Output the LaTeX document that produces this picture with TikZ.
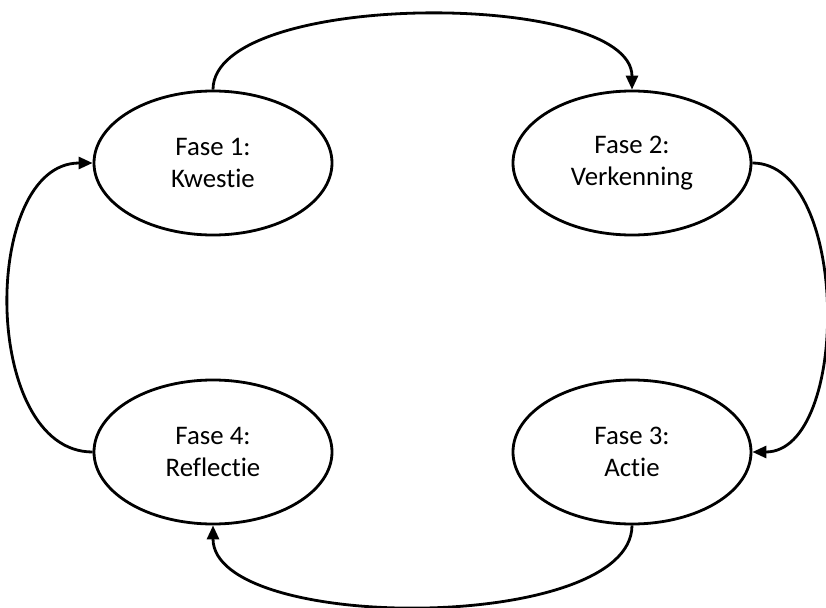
\documentclass[tikz,border=0pt]{standalone}
\usepackage{fontspec}
\setmainfont{Carlito}[Ligatures=NoCommon]
\usetikzlibrary{arrows.meta,shapes.geometric}

\begin{document}
\begin{tikzpicture}[>={Triangle[length=7pt,width=6pt]},x=0.5pt,y=0.5pt,
  fase/.style={ellipse,draw,line width=1.4pt,minimum width=119pt,minimum height=72pt,
    inner sep=0pt,align=center,font=\fontsize{13.4}{16.2}\selectfont},
  pijl/.style={->,line width=1.4pt}]
  \useasboundingbox (0,0) rectangle (826,607);
  % vier fasen
  \node[fase] (f1) at (213,444) {Fase 1:\\Kwestie};
  \node[fase] (f2) at (632,444) {Fase 2:\\Verkenning};
  \node[fase] (f3) at (632,155) {Fase 3:\\Actie};
  \node[fase] (f4) at (213,155) {Fase 4:\\Reflectie};
  % cyclus
  \draw[pijl] (f1.north) .. controls +(0,100) and +(0,100) .. (f2.north);
  \draw[pijl] (f2.east) .. controls +(98,0) and +(98,0) .. (f3.east);
  \draw[pijl] (f3.south) .. controls +(0,-108) and +(0,-108) .. (f4.south);
  \draw[pijl] (f4.west) .. controls +(-112,0) and +(-112,0) .. (f1.west);
\end{tikzpicture}
\end{document}
